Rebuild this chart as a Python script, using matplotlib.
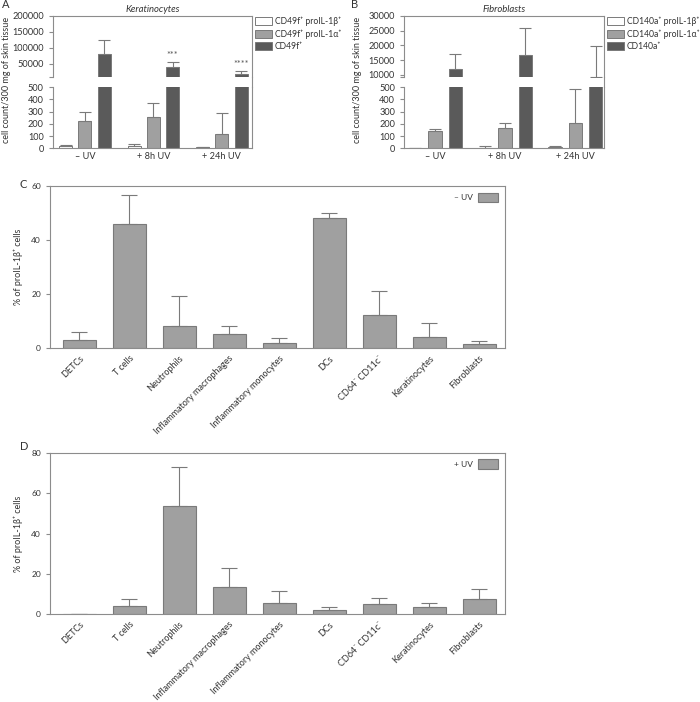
import matplotlib
matplotlib.use('Agg')
import matplotlib.pyplot as plt
from matplotlib.lines import Line2D
from matplotlib.patches import Patch
import numpy as np

plt.rcParams['font.family'] = ['Lato', 'DejaVu Sans']

# Panel A / B data (cell count / 300 mg of skin tissue)
groups = ['\u2013 UV', '+ 8h UV', '+ 24h UV']
kera_il1b = [17, 15, 7]
kera_il1b_sd = [8, 20, 3]
kera_il1a = [220, 255, 120]
kera_il1a_sd = [75, 120, 170]
kera_total = [79000, 38400, 16600]
kera_total_sd = [44000, 17600, 9400]
kera_stars = ['', '***', '****']

fibro_il1b = [2, 5, 12]
fibro_il1b_sd = [0, 10, 10]
fibro_il1a = [140, 165, 205]
fibro_il1a_sd = [20, 45, 285]
fibro_total = [11900, 16700, 9400]
fibro_total_sd = [5000, 9200, 10500]

# Panel C / D data (% of proIL-1b+ cells)
cells = ['DETCs', 'T cells', 'Neutrophils', 'Inflammatory macrophages',
         'Inflammatory monocytes', 'DCs', 'CD64\u207b CD11c\u207b',
         'Keratinocytes', 'Fibroblasts']
c_mean = [2.9, 46.1, 8.1, 5.3, 2.0, 48.4, 12.3, 4.2, 1.5]
c_sd = [3.0, 10.6, 11.2, 3.1, 1.7, 1.6, 8.8, 5.1, 1.1]
d_mean = [0.3, 4.0, 53.7, 13.7, 5.6, 2.3, 5.3, 3.5, 7.8]
d_sd = [0.0, 3.8, 19.1, 9.4, 6.0, 1.5, 3.0, 2.3, 4.9]

W, H = 700, 702
fig = plt.figure(figsize=(W / 100, H / 100), dpi=100)

SPINE = '#8c8c8c'
TXT = '#333333'
WHITE, GREY, DARK = '#ffffff', '#a0a0a0', '#5a5a5a'
EDGE = '#7a7a7a'


def px_axes(x0, y0, x1, y1):
    return fig.add_axes([x0 / W, 1 - y1 / H, (x1 - x0) / W, (y1 - y0) / H])


def style(ax, fs):
    for s in ax.spines.values():
        s.set_color(SPINE)
        s.set_linewidth(0.8)
    ax.tick_params(colors=SPINE, labelcolor=TXT, labelsize=fs, length=3, width=0.8)


def draw_bars(ax, x, series):
    for off, vals, sds, col in series:
        ax.bar(x + off, vals, width=0.19, color=col, edgecolor=EDGE, linewidth=0.7)
        ax.errorbar(x + off, vals, yerr=[np.zeros(len(vals)), sds], fmt='none',
                    ecolor=EDGE, elinewidth=0.8, capsize=4, capthick=0.8)


def broken_panel(x0, x1, up_lim, up_ticks, series, xlim, title, labels, stars=None):
    x = np.arange(len(groups))
    ax_up = px_axes(x0, 15.7, x1, 77.3)
    ax_lo = px_axes(x0, 87.3, x1, 148.3)
    for ax in (ax_up, ax_lo):
        draw_bars(ax, x, series)
        style(ax, 6.6)
        ax.set_xlim(*xlim)
    ax_up.set_ylim(*up_lim)
    ax_up.set_yticks([up_lim[0]] + up_ticks)
    ax_up.set_yticklabels([''] + [str(t) for t in up_ticks])
    ax_up.spines['bottom'].set_visible(False)
    ax_up.set_xticks([])
    ax_lo.set_ylim(0, 500)
    ax_lo.set_yticks(range(0, 501, 100))
    ax_lo.spines['top'].set_visible(False)
    ax_lo.set_xticks(x)
    ax_lo.set_xticklabels(groups)
    ax_lo.tick_params(axis='x', length=0, pad=3)
    ax_up.set_title(title, fontsize=6.8, style='italic', color=TXT, pad=3)
    if stars:
        for xi, m, s, st in zip(x, series[2][1], series[2][2], stars):
            ax_up.annotate(st, xy=(xi + 0.28, m + s), xytext=(0, 1.5),
                           textcoords='offset points', ha='center', va='bottom',
                           fontsize=6.5, color='#555555')
    # continuous right spine through the break
    fig.add_artist(Line2D([x1 / W, x1 / W], [1 - 87.3 / H, 1 - 77.3 / H],
                          color=SPINE, linewidth=0.8))
    handles = [Patch(facecolor=c, edgecolor=EDGE, linewidth=0.7)
               for c in (WHITE, GREY, DARK)]
    fig.legend(handles, labels, loc='upper left',
               bbox_to_anchor=((x1 + 2) / W, 1 - 15.5 / H), frameon=False,
               fontsize=6.2, handlelength=1.95, handleheight=1.05,
               labelspacing=0.38, handletextpad=0.35, borderpad=0.1,
               borderaxespad=0, labelcolor=TXT)
    fig.text((x0 - 46) / W, 1 - 80 / H, 'cell count/300 mg of skin tissue',
             rotation=90, ha='center', va='center', fontsize=6.5, color=TXT)


broken_panel(52.7, 252, (7000, 200000), [50000, 100000, 150000, 200000],
             [(-0.28, kera_il1b, kera_il1b_sd, WHITE),
              (0.0, kera_il1a, kera_il1a_sd, GREY),
              (0.28, kera_total, kera_total_sd, DARK)],
             (-0.47, 2.44), 'Keratinocytes',
             ['CD49f\u207a proIL-1\u03b2\u207a', 'CD49f\u207a proIL-1\u03b1\u207a',
              'CD49f\u207a'], stars=kera_stars)
broken_panel(404, 604, (9200, 30000), [10000, 15000, 20000, 25000, 30000],
             [(-0.29, fibro_il1b, fibro_il1b_sd, WHITE),
              (0.0, fibro_il1a, fibro_il1a_sd, GREY),
              (0.29, fibro_total, fibro_total_sd, DARK)],
             (-0.44, 2.41), 'Fibroblasts',
             ['CD140a\u207a proIL-1\u03b2\u207a', 'CD140a\u207a proIL-1\u03b1\u207a',
              'CD140a\u207a'])


def cell_panel(y0, y1, means, sds, ymax, legend_label):
    ax = px_axes(50, y0, 505, y1)
    x = np.arange(len(cells))
    ax.bar(x, means, width=0.66, color=GREY, edgecolor=EDGE, linewidth=0.8,
           label=legend_label)
    ax.errorbar(x, means, yerr=[np.zeros(len(means)), sds], fmt='none',
                ecolor=EDGE, elinewidth=0.8, capsize=6, capthick=0.8)
    ax.set_xlim(-0.58, 8.52)
    ax.set_ylim(0, ymax)
    ax.set_yticks(range(0, ymax + 1, 20))
    ax.set_xticks(x)
    ax.set_xticklabels(cells, rotation=45, ha='right', rotation_mode='anchor')
    style(ax, 6)
    ax.tick_params(axis='x', length=0, pad=4, labelsize=6.5)
    ax.set_ylabel('% of proIL-1\u03b2\u207a cells', fontsize=6.5, color=TXT, labelpad=6)
    ax.legend(loc='upper right', frameon=False, fontsize=6, markerfirst=False,
              handlelength=2.5, handleheight=1.35, handletextpad=0.6,
              borderaxespad=0.4, labelcolor=TXT)
    return ax


cell_panel(186.3, 348.3, c_mean, c_sd, 60, '\u2013 UV')
cell_panel(452.7, 614.4, d_mean, d_sd, 80, '+ UV')

for lab, px, py in [('A', 2, 5), ('B', 351, 5), ('C', 20, 184), ('D', 20, 447)]:
    fig.text(px / W, 1 - py / H, lab, fontsize=8, color=TXT, va='center')

fig.savefig('out.png', dpi=100)
